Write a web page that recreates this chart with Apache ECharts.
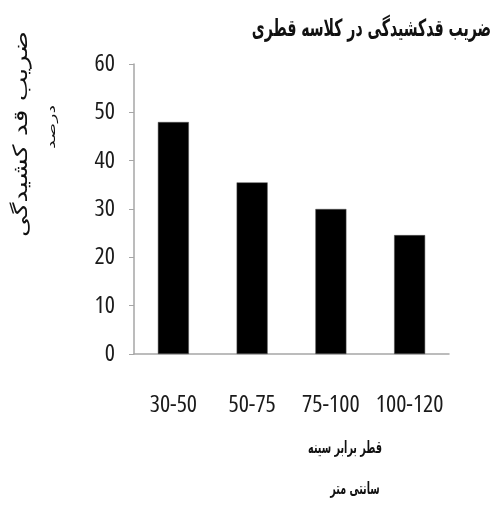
<!DOCTYPE html>
<html>
<head>
<meta charset="utf-8">
<script src="https://cdn.jsdelivr.net/npm/echarts@6/dist/echarts.min.js"></script>
<style>
  html, body { margin: 0; padding: 0; background: #fff; }
  #chart { width: 496px; height: 505px; }
</style>
</head>
<body>
<div id="chart"></div>
<script>
// Diameter classes (cm) and slenderness coefficient (%)
const categories = ['30-50', '50-75', '75-100', '100-120'];
const values = [48, 35.5, 30, 24.6];
const yTicks = { min: 0, max: 60, interval: 10 };

const titleText = 'ضریب قدکشیدگی در کلاسه قطری';
const yName = 'ضریب قد کشیدگی';
const yUnit = 'درصد';
const xName = 'قطر برابر سینه';
const xUnit = 'سانتی متر';

const numFont = '"Open Sans", sans-serif';
const faFont = '"DejaVu Sans", sans-serif';

const chart = echarts.init(document.getElementById('chart'), null, { renderer: 'canvas' });
chart.setOption({
  backgroundColor: '#ffffff',
  animation: false,
  grid: { left: 134, right: 47, top: 64, bottom: 151, containLabel: false },
  xAxis: {
    type: 'category',
    data: categories,
    axisLine: { lineStyle: { color: '#a6a6a6', width: 1.5 } },
    axisTick: { show: false },
    axisLabel: {
      interval: 0, color: '#1a1a1a', fontFamily: numFont,
      fontWeight: 'condensed', fontSize: 24, margin: 39
    }
  },
  yAxis: {
    type: 'value',
    min: yTicks.min,
    max: yTicks.max,
    interval: yTicks.interval,
    splitLine: { show: false },
    axisLine: { show: true, lineStyle: { color: '#a6a6a6', width: 1.5 } },
    axisTick: { show: true, length: 5, lineStyle: { color: '#a6a6a6' } },
    axisLabel: {
      color: '#1a1a1a', fontFamily: numFont,
      fontWeight: 'condensed', fontSize: 24, margin: 19
    }
  },
  series: [{
    type: 'bar',
    data: values,
    barWidth: 31,
    itemStyle: { color: '#000000', borderColor: '#555', borderWidth: 0.5 }
  }],
  graphic: [
    {
      type: 'text', x: 491, y: 30, scaleX: 0.74, scaleY: 1.25,
      style: { text: titleText, font: 'bold 19px ' + faFont, fill: '#111', align: 'right', verticalAlign: 'middle' }
    },
    {
      type: 'text', x: 22, y: 134, rotation: Math.PI / 2, scaleX: 1.2, scaleY: 0.9,
      style: { text: yName, font: '22px ' + faFont, fill: '#111', align: 'center', verticalAlign: 'middle' }
    },
    {
      type: 'text', x: 52, y: 127, rotation: Math.PI / 2, scaleX: 1.6,
      style: { text: yUnit, font: '12px ' + faFont, fill: '#111', align: 'center', verticalAlign: 'middle' }
    },
    {
      type: 'text', x: 345, y: 449, scaleX: 0.8, scaleY: 1.4,
      style: { text: xName, font: 'bold 12px ' + faFont, fill: '#111', align: 'center', verticalAlign: 'middle' }
    },
    {
      type: 'text', x: 355, y: 490, scaleX: 0.8, scaleY: 1.4,
      style: { text: xUnit, font: 'bold 12px ' + faFont, fill: '#111', align: 'center', verticalAlign: 'middle' }
    }
  ]
});
</script>
</body>
</html>
